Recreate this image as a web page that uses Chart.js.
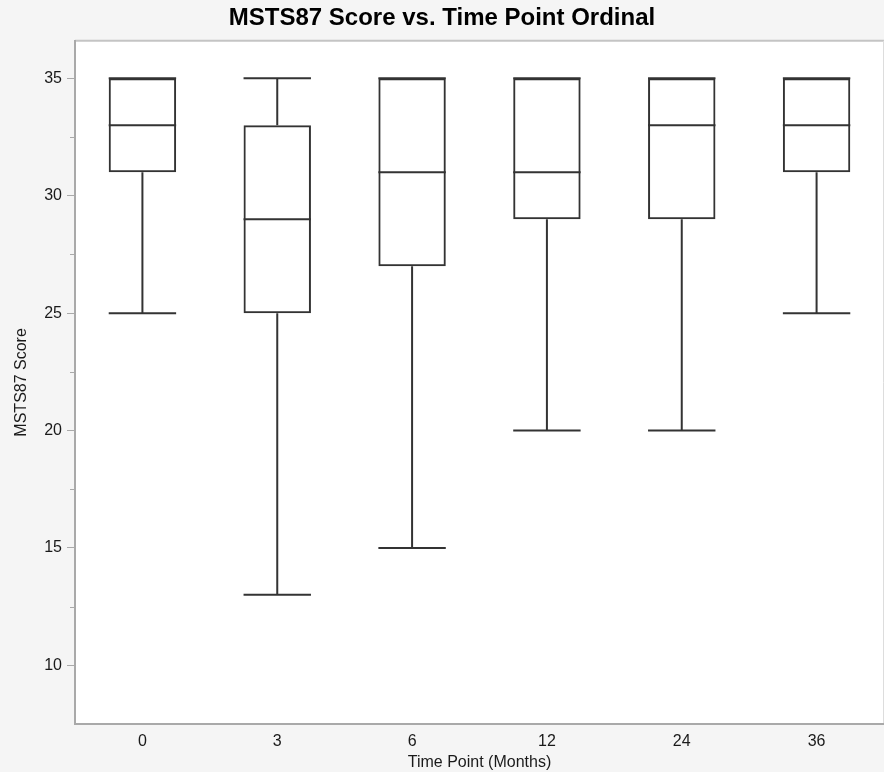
<!DOCTYPE html>
<html>
<head>
<meta charset="utf-8">
<script src="https://cdn.jsdelivr.net/npm/chart.js@4/dist/chart.umd.min.js"></script>
<style>
  html, body { margin: 0; padding: 0; background: #f5f5f5; }
  #wrap { width: 884px; height: 772px; }
</style>
</head>
<body>
<div id="wrap"><canvas id="c" width="884" height="772"></canvas></div>
<script>
// ---- data ----
const categories = ['0', '3', '6', '12', '24', '36'];
const whiskerLow = [25, 13, 15, 20, 20, 25];
const q1Values   = [31, 25, 27, 29, 29, 31];
const medians    = [33, 29, 31, 31, 33, 33];
const q3Values   = [35, 33, 35, 35, 35, 35];
const whiskerHigh = [35, 35, 35, 35, 35, 35];
const yMajorTicks = [10, 15, 20, 25, 30, 35];
const yMinorTicks = [7.5, 12.5, 17.5, 22.5, 27.5, 32.5];

const boxColor = '#333333';
const axisGray = '#a9a9a9';

const bgPlugin = {
  id: 'bg',
  beforeDraw(chart) {
    const { ctx, chartArea: a } = chart;
    ctx.save();
    ctx.fillStyle = '#f5f5f5';
    ctx.fillRect(0, 0, chart.width, chart.height);
    ctx.fillStyle = '#ffffff';
    ctx.fillRect(a.left, a.top, a.right - a.left, a.bottom - a.top);
    ctx.strokeStyle = '#c4c4c4';
    ctx.lineWidth = 2;
    ctx.beginPath();
    ctx.moveTo(a.left, a.top);
    ctx.lineTo(a.right, a.top);
    ctx.stroke();
    ctx.lineWidth = 1;
    ctx.strokeStyle = '#dddddd';
    ctx.beginPath();
    ctx.moveTo(a.right - 0.5, a.top);
    ctx.lineTo(a.right - 0.5, a.bottom);
    ctx.stroke();
    ctx.restore();
  }
};

const boxPlugin = {
  id: 'boxParts',
  afterDatasetsDraw(chart) {
    const { ctx } = chart;
    const y = chart.scales.y;
    const meta = chart.getDatasetMeta(0);
    ctx.save();
    ctx.strokeStyle = boxColor;
    ctx.lineWidth = 2;
    meta.data.forEach((bar, i) => {
      const cx = bar.x;
      const half = bar.width / 2;
      const yMed = y.getPixelForValue(medians[i]);
      const yQ1 = y.getPixelForValue(q1Values[i]);
      const yQ3 = y.getPixelForValue(q3Values[i]);
      const yLo = y.getPixelForValue(whiskerLow[i]);
      const yHi = y.getPixelForValue(whiskerHigh[i]);
      ctx.beginPath();
      // median
      ctx.moveTo(cx - half, yMed); ctx.lineTo(cx + half, yMed);
      // lower whisker
      ctx.moveTo(cx, yQ1); ctx.lineTo(cx, yLo);
      ctx.moveTo(cx - half, yLo); ctx.lineTo(cx + half, yLo);
      // upper whisker
      ctx.moveTo(cx, yQ3); ctx.lineTo(cx, yHi);
      ctx.moveTo(cx - half, yHi); ctx.lineTo(cx + half, yHi);
      ctx.stroke();
    });
    // minor ticks on y axis
    ctx.strokeStyle = axisGray;
    ctx.lineWidth = 1;
    const left = chart.chartArea.left;
    yMinorTicks.forEach(v => {
      const py = Math.round(y.getPixelForValue(v)) + 0.5;
      if (py < chart.chartArea.top || py > chart.chartArea.bottom - 2) return;
      ctx.beginPath();
      ctx.moveTo(left - 5, py); ctx.lineTo(left, py);
      ctx.stroke();
    });
    ctx.restore();
  }
};

const font = 'Liberation Sans, Arial, Helvetica, sans-serif';

new Chart(document.getElementById('c'), {
  type: 'bar',
  data: {
    labels: categories,
    datasets: [{
      label: 'MSTS87 Score',
      data: q1Values.map((q, i) => [q, q3Values[i]]),
      backgroundColor: 'rgba(255,255,255,0)',
      borderColor: boxColor,
      borderWidth: 2,
      borderSkipped: false,
      categoryPercentage: 1.0,
      barPercentage: 0.5
    }]
  },
  options: {
    responsive: false,
    animation: false,
    devicePixelRatio: 1,
    layout: { padding: 0 },
    plugins: {
      legend: { display: false },
      tooltip: { enabled: false },
      title: {
        display: true,
        text: 'MSTS87 Score vs. Time Point Ordinal',
        color: '#000000',
        font: { family: font, size: 24, weight: 'bold', lineHeight: 1.2 },
        padding: { top: 4, bottom: 8 }
      }
    },
    scales: {
      x: {
        grid: { display: false, drawTicks: false },
        border: { display: true, color: axisGray, width: 2 },
        ticks: { color: '#1a1a1a', font: { family: font, size: 16 }, padding: 8 },
        title: {
          display: true,
          text: 'Time Point (Months)',
          color: '#1a1a1a',
          font: { family: font, size: 16 },
          padding: { top: 0, bottom: 0 }
        },
        afterFit(scale) { scale.height = 48; }
      },
      y: {
        min: 7.5,
        max: 36.6,
        afterBuildTicks(scale) { scale.ticks = yMajorTicks.map(v => ({ value: v })); },
        grid: { drawOnChartArea: false, drawTicks: true, tickLength: 8, color: axisGray, tickColor: axisGray },
        border: { display: true, color: axisGray, width: 2 },
        ticks: { color: '#1a1a1a', font: { family: font, size: 16 }, padding: 5 },
        title: {
          display: true,
          text: 'MSTS87 Score',
          color: '#1a1a1a',
          font: { family: font, size: 16 },
          padding: { top: 12, bottom: 0 }
        },
        afterFit(scale) { scale.width = 75; }
      }
    }
  },
  plugins: [bgPlugin, boxPlugin]
});
</script>
</body>
</html>
